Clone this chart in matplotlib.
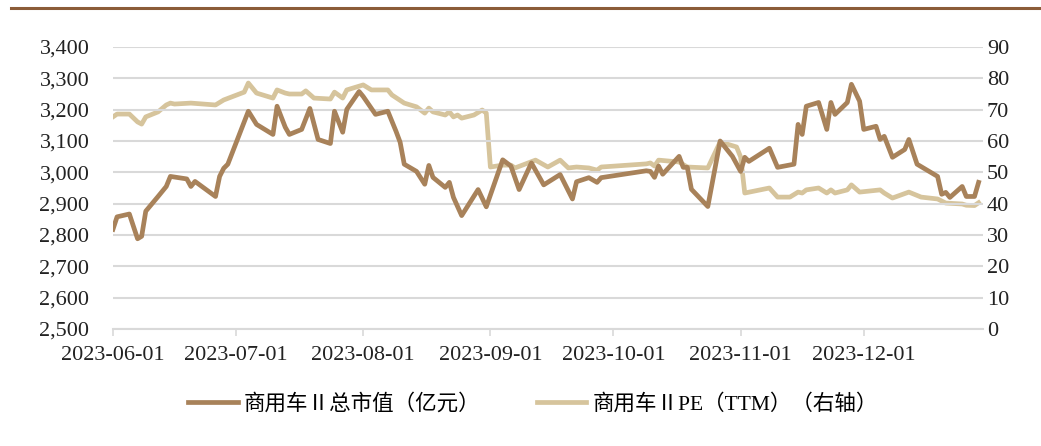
import matplotlib
matplotlib.use("Agg")
import matplotlib.pyplot as plt
import matplotlib.dates as mdates
from matplotlib.lines import Line2D
import pandas as pd

plt.rcParams['font.family'] = ['Liberation Serif', 'Noto Sans CJK SC', 'DejaVu Sans']

# 商用车II 总市值 (亿元), left axis
cap_dates = ["2023-06-01", "2023-06-02", "2023-06-05", "2023-06-07", "2023-06-08", "2023-06-09",
             "2023-06-12", "2023-06-14", "2023-06-15", "2023-06-19", "2023-06-20", "2023-06-21",
             "2023-06-26", "2023-06-27", "2023-06-28", "2023-06-29", "2023-07-04", "2023-07-06",
             "2023-07-10", "2023-07-11", "2023-07-13", "2023-07-14", "2023-07-17", "2023-07-19",
             "2023-07-21", "2023-07-24", "2023-07-25", "2023-07-27", "2023-07-28", "2023-07-31",
             "2023-08-01", "2023-08-02", "2023-08-04", "2023-08-07", "2023-08-09", "2023-08-10",
             "2023-08-11", "2023-08-14", "2023-08-16", "2023-08-17", "2023-08-18", "2023-08-21",
             "2023-08-22", "2023-08-23", "2023-08-25", "2023-08-29", "2023-08-31", "2023-09-04",
             "2023-09-06", "2023-09-08", "2023-09-11", "2023-09-14", "2023-09-18", "2023-09-21",
             "2023-09-22", "2023-09-25", "2023-09-27", "2023-09-28", "2023-10-09", "2023-10-10",
             "2023-10-11", "2023-10-12", "2023-10-13", "2023-10-17", "2023-10-18", "2023-10-19",
             "2023-10-20", "2023-10-24", "2023-10-27", "2023-10-30", "2023-11-01", "2023-11-02",
             "2023-11-03", "2023-11-08", "2023-11-10", "2023-11-14", "2023-11-15", "2023-11-16",
             "2023-11-17", "2023-11-20", "2023-11-22", "2023-11-23", "2023-11-24", "2023-11-27",
             "2023-11-28", "2023-11-30", "2023-12-01", "2023-12-04", "2023-12-05", "2023-12-06",
             "2023-12-08", "2023-12-11", "2023-12-12", "2023-12-14", "2023-12-19", "2023-12-20",
             "2023-12-21", "2023-12-22", "2023-12-25", "2023-12-26", "2023-12-28", "2023-12-29"]
cap = [2818, 2858, 2867, 2788, 2796, 2876,
       2923, 2955, 2987, 2979, 2955, 2971,
       2923, 2987, 3013, 3026, 3195, 3153,
       3121, 3211, 3144, 3121, 3137, 3204,
       3105, 3092, 3195, 3128, 3201, 3258,
       3242, 3223, 3185, 3195, 3131, 3096,
       3026, 3003, 2962, 3022, 2984, 2952,
       2968, 2920, 2862, 2945, 2890, 3040,
       3020, 2945, 3030, 2960, 2993, 2915,
       2970, 2983, 2968, 2983, 3005, 3003,
       2984, 3020, 2994, 3051, 3016, 3016,
       2946, 2891, 3100, 3051, 3003, 3048,
       3035, 3077, 3016, 3026, 3153, 3121,
       3211, 3223, 3137, 3223, 3185, 3223,
       3281, 3227, 3137, 3147, 3105, 3115,
       3048, 3073, 3105, 3026, 2987, 2930,
       2936, 2920, 2955, 2923, 2923, 2968]

# 商用车II PE(TTM), right axis
pe_dates = ["2023-06-01", "2023-06-02", "2023-06-05", "2023-06-07", "2023-06-08", "2023-06-09",
            "2023-06-12", "2023-06-14", "2023-06-15", "2023-06-16", "2023-06-20", "2023-06-26",
            "2023-06-28", "2023-07-03", "2023-07-04", "2023-07-06", "2023-07-10", "2023-07-11",
            "2023-07-13", "2023-07-14", "2023-07-17", "2023-07-18", "2023-07-20", "2023-07-24",
            "2023-07-25", "2023-07-27", "2023-07-28", "2023-08-01", "2023-08-03", "2023-08-07",
            "2023-08-08", "2023-08-11", "2023-08-14", "2023-08-16", "2023-08-17", "2023-08-18",
            "2023-08-21", "2023-08-22", "2023-08-23", "2023-08-24", "2023-08-25", "2023-08-28",
            "2023-08-30", "2023-08-31", "2023-09-01", "2023-09-04", "2023-09-06", "2023-09-07",
            "2023-09-12", "2023-09-15", "2023-09-18", "2023-09-20", "2023-09-22", "2023-09-25",
            "2023-09-27", "2023-09-28", "2023-10-09", "2023-10-10", "2023-10-11", "2023-10-12",
            "2023-10-17", "2023-10-19", "2023-10-24", "2023-10-27", "2023-10-31", "2023-11-01",
            "2023-11-02", "2023-11-08", "2023-11-10", "2023-11-13", "2023-11-15", "2023-11-16",
            "2023-11-17", "2023-11-20", "2023-11-22", "2023-11-23", "2023-11-24", "2023-11-27",
            "2023-11-28", "2023-11-30", "2023-12-05", "2023-12-06", "2023-12-08", "2023-12-12",
            "2023-12-15", "2023-12-19", "2023-12-21", "2023-12-25", "2023-12-26", "2023-12-28",
            "2023-12-29"]
pe = [67.7, 68.6, 68.6, 66.1, 65.4, 67.7,
      69.3, 71.5, 72.1, 71.8, 72.1, 71.5,
      73.1, 75.6, 78.5, 75.3, 73.7, 76.3,
      75.3, 75.0, 75.0, 76.0, 73.7, 73.4,
      75.6, 73.7, 76.3, 77.9, 76.3, 76.3,
      74.7, 72.1, 70.9, 68.9, 70.5, 69.3,
      68.3, 69.3, 67.7, 68.3, 67.3, 68.3,
      69.9, 68.9, 51.7, 52.3, 52.3, 51.4,
      53.9, 51.7, 53.9, 51.4, 51.7, 51.4,
      50.7, 51.7, 52.7, 53.0, 52.0, 53.9,
      53.3, 51.7, 51.4, 59.7, 58.1, 54.9,
      43.4, 45.0, 42.1, 42.1, 43.7, 43.4,
      44.4, 45.0, 43.4, 44.4, 43.4, 44.4,
      46.0, 43.7, 44.4, 43.4, 41.8, 43.7,
      42.1, 41.5, 40.2, 39.9, 39.5, 39.4,
      40.3]

month_ticks = ["2023-06-01", "2023-07-01", "2023-08-01", "2023-09-01",
               "2023-10-01", "2023-11-01", "2023-12-01"]

cap_color = '#A8825A'
pe_color = '#D6C49C'
grid_color = '#D9D9D9'

fig = plt.figure(figsize=(10.41, 4.46), dpi=100)
ax = fig.add_axes([0.1085, 0.2623, 0.8355, 0.6323])
ax2 = ax.twinx()

ax.plot(pd.to_datetime(cap_dates), cap, color=cap_color, lw=3.4, solid_joinstyle='round',
        label='商用车Ⅱ总市值（亿元）', zorder=3)
ax2.plot(pd.to_datetime(pe_dates), pe, color=pe_color, lw=3.4, solid_joinstyle='round',
         label='商用车ⅡPE（TTM）（右轴）', zorder=3)

ax.set_ylim(2500, 3400)
ax.set_yticks(range(2500, 3401, 100))
ax.yaxis.set_major_formatter(matplotlib.ticker.FuncFormatter(lambda v, p: f'{int(v):,}'))
ax2.set_ylim(0, 90)
ax2.set_yticks(range(0, 91, 10))

ax.set_xlim(pd.Timestamp("2023-06-01"), pd.Timestamp("2023-12-30"))
ax.set_xticks(pd.to_datetime(month_ticks))
ax.xaxis.set_major_formatter(mdates.DateFormatter('%Y-%m-%d'))

ax.grid(axis='y', color=grid_color, lw=1.5)
ax.set_axisbelow(True)
ax.set_zorder(ax2.get_zorder() + 1)
ax.patch.set_visible(False)

for a in (ax, ax2):
    for s in a.spines.values():
        s.set_visible(False)
ax.spines['bottom'].set_visible(True)
ax.spines['bottom'].set_color(grid_color)
ax.spines['bottom'].set_linewidth(1.5)

ax.tick_params(axis='y', length=0, pad=17, labelsize=16, colors='#222222')
ax2.tick_params(axis='y', length=0, pad=3, labelsize=16, colors='#222222')
ax.tick_params(axis='x', length=5, width=1.2, color=grid_color, pad=7, labelsize=16,
               labelcolor='#222222')

h1, l1 = ax.get_legend_handles_labels()
h2, l2 = ax2.get_legend_handles_labels()
fig.legend(h1 + h2, l1 + l2, loc='center', bbox_to_anchor=(0.512, 0.094), ncol=2,
           frameon=False, fontsize=15.5, handlelength=2.3, handletextpad=0.3,
           columnspacing=2.6)

fig.add_artist(Line2D([0.011, 1.0], [0.982, 0.982], color='#8B5C38', lw=2.2))

fig.savefig('out.png', dpi=100)
